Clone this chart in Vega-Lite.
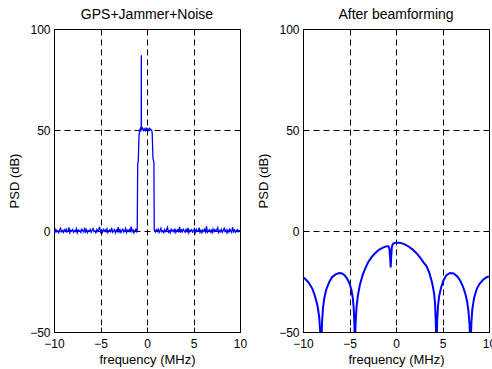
{
 "$schema": "https://vega.github.io/schema/vega-lite/v6.json",
 "padding": {"left": 8, "top": 7, "right": 0, "bottom": 0},
 "background": "white",
 "config": {
  "font": "Liberation Sans",
  "view": {"stroke": "#000", "strokeWidth": 1},
  "axis": {"domain": false, "grid": true, "gridColor": "#000", "gridDash": [6, 4], "gridOpacity": 1, "gridWidth": 1, "tickColor": "#000", "tickSize": -5, "labelPadding": 9, "labelFontSize": 12, "labelColor": "#000", "labelFlush": false, "labelOverlap": false, "titleFontSize": 13, "titleFontWeight": "normal", "titleColor": "#000", "titlePadding": 8},
  "axisX": {"titlePadding": 4, "labelPadding": 11},
  "title": {"fontSize": 14, "fontWeight": "normal", "color": "#000", "offset": 1}
 },
 "spacing": 9,
 "datasets": {
  "left": [
   {"f": -10.0, "v": 0.3}, {"f": -9.9, "v": -0.6}, {"f": -9.8, "v": 0.8}, {"f": -9.7, "v": -0.4}, {"f": -9.6, "v": 0.1}, {"f": -9.5, "v": -0.9}, {"f": -9.4, "v": 0.5}, {"f": -9.3, "v": 1.4}, {"f": -9.2, "v": -0.3}, {"f": -9.1, "v": 0.2},
   {"f": -9.0, "v": -0.7}, {"f": -8.9, "v": 0.6}, {"f": -8.8, "v": -0.2}, {"f": -8.7, "v": 0.9}, {"f": -8.6, "v": -0.5}, {"f": -8.5, "v": 0.0}, {"f": -8.4, "v": 1.8}, {"f": -8.3, "v": -0.8}, {"f": -8.2, "v": 0.4}, {"f": -8.1, "v": -0.1},
   {"f": -8.0, "v": 0.7}, {"f": -7.9, "v": -0.6}, {"f": -7.8, "v": 0.2}, {"f": -7.7, "v": -0.3}, {"f": -7.6, "v": 1.1}, {"f": -7.5, "v": -0.9}, {"f": -7.4, "v": 0.5}, {"f": -7.3, "v": -0.2}, {"f": -7.2, "v": 0.3}, {"f": -7.1, "v": -0.7},
   {"f": -7.0, "v": 0.9}, {"f": -6.9, "v": 0.1}, {"f": -6.8, "v": -0.5}, {"f": -6.7, "v": 1.6}, {"f": -6.6, "v": -0.4}, {"f": -6.5, "v": 0.6}, {"f": -6.4, "v": -0.8}, {"f": -6.3, "v": 0.2}, {"f": -6.2, "v": -0.1}, {"f": -6.1, "v": 0.8},
   {"f": -6.0, "v": -0.6}, {"f": -5.9, "v": 0.4}, {"f": -5.8, "v": 1.2}, {"f": -5.7, "v": -0.3}, {"f": -5.6, "v": 0.0}, {"f": -5.5, "v": -0.9}, {"f": -5.4, "v": 0.7}, {"f": -5.3, "v": -0.2}, {"f": -5.2, "v": 0.5}, {"f": -5.1, "v": 2.1},
   {"f": -5.0, "v": -0.5}, {"f": -4.9, "v": 0.3}, {"f": -4.8, "v": -0.7}, {"f": -4.7, "v": 0.8}, {"f": -4.6, "v": -0.1}, {"f": -4.5, "v": 0.6}, {"f": -4.4, "v": -0.4}, {"f": -4.3, "v": 1.0}, {"f": -4.2, "v": -0.8}, {"f": -4.1, "v": 0.2},
   {"f": -4.0, "v": 0.5}, {"f": -3.9, "v": -0.3}, {"f": -3.8, "v": 1.5}, {"f": -3.7, "v": -0.6}, {"f": -3.6, "v": 0.1}, {"f": -3.5, "v": 0.7}, {"f": -3.4, "v": -0.9}, {"f": -3.3, "v": 0.4}, {"f": -3.2, "v": -0.2}, {"f": -3.1, "v": 1.9},
   {"f": -3.0, "v": -0.4}, {"f": -2.9, "v": 0.6}, {"f": -2.8, "v": -0.7}, {"f": -2.7, "v": 0.3}, {"f": -2.6, "v": 0.9}, {"f": -2.5, "v": -0.5}, {"f": -2.4, "v": 0.1}, {"f": -2.3, "v": 1.3}, {"f": -2.2, "v": -0.8}, {"f": -2.1, "v": 0.4},
   {"f": -2.0, "v": -0.2}, {"f": -1.9, "v": 0.7}, {"f": -1.8, "v": -0.6}, {"f": -1.7, "v": 2.2}, {"f": -1.6, "v": -0.3}, {"f": -1.5, "v": 0.5}, {"f": -1.4, "v": -0.9}, {"f": -1.3, "v": 0.2}, {"f": -1.2, "v": 0.8}, {"f": -1.1, "v": -0.4},
   {"f": -1.05, "v": 0.2}, {"f": -1.0, "v": 33}, {"f": -0.94, "v": 34.5}, {"f": -0.86, "v": 47}, {"f": -0.8, "v": 49.5}, {"f": -0.72, "v": 50.6}, {"f": -0.66, "v": 49.8}, {"f": -0.62, "v": 50.5}, {"f": -0.61, "v": 87}, {"f": -0.6, "v": 50.3},
   {"f": -0.5, "v": 51}, {"f": -0.4, "v": 49.8}, {"f": -0.3, "v": 50.6}, {"f": -0.2, "v": 49.7}, {"f": -0.1, "v": 50.9}, {"f": 0.0, "v": 50.1}, {"f": 0.1, "v": 50.7}, {"f": 0.2, "v": 49.8}, {"f": 0.3, "v": 50.8}, {"f": 0.4, "v": 50.2},
   {"f": 0.5, "v": 49.9}, {"f": 0.56, "v": 48.5}, {"f": 0.64, "v": 36}, {"f": 0.74, "v": 34}, {"f": 0.78, "v": 1},
   {"f": 0.8, "v": 0.1}, {"f": 0.9, "v": -0.5}, {"f": 1.0, "v": 0.6}, {"f": 1.1, "v": -0.2}, {"f": 1.2, "v": 0.9}, {"f": 1.3, "v": -0.7}, {"f": 1.4, "v": 0.3}, {"f": 1.5, "v": 1.4}, {"f": 1.6, "v": -0.4}, {"f": 1.7, "v": 0.1},
   {"f": 1.8, "v": -0.8}, {"f": 1.9, "v": 0.7}, {"f": 2.0, "v": -0.3}, {"f": 2.1, "v": 0.5}, {"f": 2.2, "v": 1.8}, {"f": 2.3, "v": -0.6}, {"f": 2.4, "v": 0.2}, {"f": 2.5, "v": -0.9}, {"f": 2.6, "v": 0.8}, {"f": 2.7, "v": -0.1},
   {"f": 2.8, "v": 0.4}, {"f": 2.9, "v": -0.5}, {"f": 3.0, "v": 1.2}, {"f": 3.1, "v": -0.7}, {"f": 3.2, "v": 0.3}, {"f": 3.3, "v": 0.6}, {"f": 3.4, "v": -0.2}, {"f": 3.5, "v": 2.0}, {"f": 3.6, "v": -0.8}, {"f": 3.7, "v": 0.5},
   {"f": 3.8, "v": -0.4}, {"f": 3.9, "v": 0.9}, {"f": 4.0, "v": 0.1}, {"f": 4.1, "v": -0.6}, {"f": 4.2, "v": 0.7}, {"f": 4.3, "v": -0.3}, {"f": 4.4, "v": 1.5}, {"f": 4.5, "v": -0.9}, {"f": 4.6, "v": 0.4}, {"f": 4.7, "v": -0.1},
   {"f": 4.8, "v": 0.6}, {"f": 4.9, "v": -0.5}, {"f": 5.0, "v": 0.2}, {"f": 5.1, "v": 1.1}, {"f": 5.2, "v": -0.7}, {"f": 5.3, "v": 0.8}, {"f": 5.4, "v": -0.3}, {"f": 5.5, "v": 0.0}, {"f": 5.6, "v": 1.7}, {"f": 5.7, "v": -0.6},
   {"f": 5.8, "v": 0.3}, {"f": 5.9, "v": -0.8}, {"f": 6.0, "v": 0.5}, {"f": 6.1, "v": -0.2}, {"f": 6.2, "v": 0.9}, {"f": 6.3, "v": -0.4}, {"f": 6.4, "v": 2.3}, {"f": 6.5, "v": -0.7}, {"f": 6.6, "v": 0.1}, {"f": 6.7, "v": 0.6},
   {"f": 6.8, "v": -0.5}, {"f": 6.9, "v": 0.4}, {"f": 7.0, "v": -0.9}, {"f": 7.1, "v": 1.0}, {"f": 7.2, "v": -0.3}, {"f": 7.3, "v": 0.7}, {"f": 7.4, "v": -0.1}, {"f": 7.5, "v": 0.5}, {"f": 7.6, "v": 1.6}, {"f": 7.7, "v": -0.8},
   {"f": 7.8, "v": 0.2}, {"f": 7.9, "v": -0.4}, {"f": 8.0, "v": 0.8}, {"f": 8.1, "v": -0.6}, {"f": 8.2, "v": 0.3}, {"f": 8.3, "v": 1.3}, {"f": 8.4, "v": -0.2}, {"f": 8.5, "v": 0.6}, {"f": 8.6, "v": -0.9}, {"f": 8.7, "v": 0.4},
   {"f": 8.8, "v": -0.5}, {"f": 8.9, "v": 0.9}, {"f": 9.0, "v": 0.1}, {"f": 9.1, "v": -0.7}, {"f": 9.2, "v": 1.9}, {"f": 9.3, "v": -0.3}, {"f": 9.4, "v": 0.5}, {"f": 9.5, "v": -0.6}, {"f": 9.6, "v": 0.2}, {"f": 9.7, "v": 0.7},
   {"f": 9.8, "v": -0.4}, {"f": 9.9, "v": 0.3}, {"f": 10.0, "v": -0.2}
  ],
  "right": [
   {"f": -10.0, "v": -23}, {"f": -9.8, "v": -23.5}, {"f": -9.6, "v": -24.5}, {"f": -9.4, "v": -25.5}, {"f": -9.2, "v": -27}, {"f": -9.0, "v": -28.5}, {"f": -8.8, "v": -31}, {"f": -8.6, "v": -34}, {"f": -8.4, "v": -38}, {"f": -8.25, "v": -43},
   {"f": -8.15, "v": -50}, {"f": -8.05, "v": -60}, {"f": -7.95, "v": -45}, {"f": -7.85, "v": -38}, {"f": -7.7, "v": -33}, {"f": -7.5, "v": -29}, {"f": -7.2, "v": -25.5}, {"f": -6.9, "v": -23}, {"f": -6.5, "v": -21.5}, {"f": -6.1, "v": -20.8},
   {"f": -5.8, "v": -21}, {"f": -5.5, "v": -22}, {"f": -5.2, "v": -24}, {"f": -5.0, "v": -26}, {"f": -4.8, "v": -29}, {"f": -4.65, "v": -33}, {"f": -4.55, "v": -38}, {"f": -4.48, "v": -45}, {"f": -4.42, "v": -60}, {"f": -4.35, "v": -46},
   {"f": -4.25, "v": -38}, {"f": -4.1, "v": -32}, {"f": -3.9, "v": -27}, {"f": -3.6, "v": -22}, {"f": -3.3, "v": -18.5}, {"f": -3.0, "v": -15.5}, {"f": -2.6, "v": -12.8}, {"f": -2.2, "v": -10.8}, {"f": -1.8, "v": -9.2}, {"f": -1.4, "v": -8.2},
   {"f": -1.0, "v": -7.5}, {"f": -0.8, "v": -7.6}, {"f": -0.7, "v": -9}, {"f": -0.62, "v": -14}, {"f": -0.57, "v": -18}, {"f": -0.52, "v": -13}, {"f": -0.45, "v": -8}, {"f": -0.35, "v": -6.5}, {"f": -0.2, "v": -6}, {"f": 0.0, "v": -5.8},
   {"f": 0.3, "v": -5.8}, {"f": 0.6, "v": -6}, {"f": 1.0, "v": -6.7}, {"f": 1.4, "v": -7.8}, {"f": 1.8, "v": -9.2}, {"f": 2.2, "v": -11}, {"f": 2.6, "v": -13.2}, {"f": 3.0, "v": -15.8}, {"f": 3.3, "v": -17.5}, {"f": 3.6, "v": -21},
   {"f": 3.9, "v": -26}, {"f": 4.1, "v": -31}, {"f": 4.2, "v": -36}, {"f": 4.28, "v": -45}, {"f": 4.35, "v": -60}, {"f": 4.42, "v": -45}, {"f": 4.52, "v": -37}, {"f": 4.65, "v": -32}, {"f": 4.85, "v": -28}, {"f": 5.1, "v": -24.5},
   {"f": 5.4, "v": -22}, {"f": 5.8, "v": -20.8}, {"f": 6.2, "v": -21}, {"f": 6.6, "v": -22.5}, {"f": 6.9, "v": -24.5}, {"f": 7.2, "v": -27.5}, {"f": 7.45, "v": -31}, {"f": 7.65, "v": -35}, {"f": 7.8, "v": -40}, {"f": 7.92, "v": -47},
   {"f": 8.0, "v": -60}, {"f": 8.1, "v": -46}, {"f": 8.2, "v": -39}, {"f": 8.4, "v": -33}, {"f": 8.7, "v": -28.5}, {"f": 9.0, "v": -26}, {"f": 9.4, "v": -24}, {"f": 9.7, "v": -23}, {"f": 10.0, "v": -22.5}
  ]
 },
 "hconcat": [
  {
   "width": 186, "height": 303,
   "title": "GPS+Jammer+Noise",
   "data": {"name": "left"},
   "mark": {"type": "line", "color": "#0000ff", "strokeWidth": 1.3, "clip": true},
   "encoding": {
    "x": {"field": "f", "type": "quantitative", "scale": {"domain": [-10, 10], "nice": false, "zero": false}, "axis": {"values": [-10, -5, 0, 5, 10], "title": "frequency (MHz)"}},
    "y": {"field": "v", "type": "quantitative", "scale": {"domain": [-50, 100], "nice": false, "zero": false}, "axis": {"values": [-50, 0, 50, 100], "title": "PSD (dB)"}}
   }
  },
  {
   "width": 186, "height": 303,
   "title": "After beamforming",
   "data": {"name": "right"},
   "mark": {"type": "line", "color": "#0000ff", "strokeWidth": 2, "clip": true},
   "encoding": {
    "x": {"field": "f", "type": "quantitative", "scale": {"domain": [-10, 10], "nice": false, "zero": false}, "axis": {"values": [-10, -5, 0, 5, 10], "title": "frequency (MHz)"}},
    "y": {"field": "v", "type": "quantitative", "scale": {"domain": [-50, 100], "nice": false, "zero": false}, "axis": {"values": [-50, 0, 50, 100], "title": "PSD (dB)"}}
   }
  }
 ]
}
